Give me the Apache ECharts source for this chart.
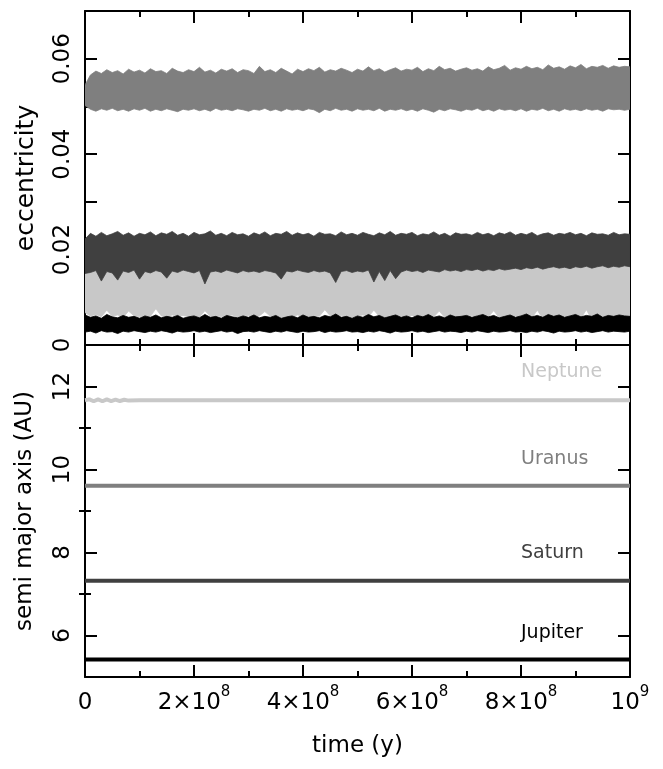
<!DOCTYPE html>
<html><head><meta charset="utf-8">
<script src="https://cdn.jsdelivr.net/npm/echarts@6/dist/echarts.min.js"></script>
<style>html,body{margin:0;padding:0;background:#fff}#c{width:663px;height:769px}</style>
</head><body><div id="c"></div>
<script>
// ---------- data ----------
const eccTime = [
  0,1e7,2e7,3e7,4e7,5e7,6e7,7e7,8e7,9e7,
  1e8,1.1e8,1.2e8,1.3e8,1.4e8,1.5e8,1.6e8,1.7e8,1.8e8,1.9e8,
  2e8,2.1e8,2.2e8,2.3e8,2.4e8,2.5e8,2.6e8,2.7e8,2.8e8,2.9e8,
  3e8,3.1e8,3.2e8,3.3e8,3.4e8,3.5e8,3.6e8,3.7e8,3.8e8,3.9e8,
  4e8,4.1e8,4.2e8,4.3e8,4.4e8,4.5e8,4.6e8,4.7e8,4.8e8,4.9e8,
  5e8,5.1e8,5.2e8,5.3e8,5.4e8,5.5e8,5.6e8,5.7e8,5.8e8,5.9e8,
  6e8,6.1e8,6.2e8,6.3e8,6.4e8,6.5e8,6.6e8,6.7e8,6.8e8,6.9e8,
  7e8,7.1e8,7.2e8,7.3e8,7.4e8,7.5e8,7.6e8,7.7e8,7.8e8,7.9e8,
  8e8,8.1e8,8.2e8,8.3e8,8.4e8,8.5e8,8.6e8,8.7e8,8.8e8,8.9e8,
  9e8,9.1e8,9.2e8,9.3e8,9.4e8,9.5e8,9.6e8,9.7e8,9.8e8,9.9e8,
  1e9];

// eccentricity envelopes (upper / lower)
const uranusEccHigh = [
  0.0545,0.0566,0.0574,0.0569,0.0577,0.0571,0.0575,0.0568,0.0578,0.0572,
  0.0576,0.0570,0.0579,0.0573,0.0575,0.0569,0.0580,0.0574,0.0571,0.0577,
  0.0573,0.0582,0.0572,0.0576,0.0570,0.0578,0.0574,0.0579,0.0571,0.0577,
  0.0575,0.0569,0.0584,0.0573,0.0577,0.0571,0.0580,0.0574,0.0568,0.0578,
  0.0573,0.0579,0.0575,0.0582,0.0572,0.0577,0.0574,0.0580,0.0576,0.0571,
  0.0578,0.0574,0.0583,0.0575,0.0579,0.0572,0.0577,0.0581,0.0574,0.0578,
  0.0576,0.0582,0.0573,0.0579,0.0575,0.0584,0.0577,0.0580,0.0574,0.0578,
  0.0581,0.0576,0.0579,0.0574,0.0583,0.0577,0.0580,0.0586,0.0576,0.0581,
  0.0578,0.0584,0.0579,0.0582,0.0577,0.0587,0.0580,0.0583,0.0578,0.0585,
  0.0581,0.0588,0.0579,0.0584,0.0582,0.0586,0.0580,0.0585,0.0582,0.0584,
  0.0583];
const uranusEccLow = [
  0.0502,0.0494,0.0490,0.0495,0.0492,0.0496,0.0491,0.0494,0.0490,0.0495,
  0.0492,0.0496,0.0490,0.0494,0.0491,0.0495,0.0492,0.0489,0.0494,0.0492,
  0.0495,0.0491,0.0494,0.0490,0.0496,0.0492,0.0494,0.0491,0.0495,0.0493,
  0.0490,0.0494,0.0492,0.0496,0.0491,0.0494,0.0490,0.0495,0.0492,0.0494,
  0.0491,0.0495,0.0493,0.0487,0.0494,0.0491,0.0496,0.0492,0.0494,0.0490,
  0.0495,0.0492,0.0494,0.0491,0.0496,0.0490,0.0494,0.0492,0.0495,0.0491,
  0.0494,0.0490,0.0495,0.0492,0.0488,0.0494,0.0491,0.0495,0.0493,0.0490,
  0.0494,0.0492,0.0496,0.0491,0.0494,0.0490,0.0495,0.0492,0.0494,0.0491,
  0.0495,0.0490,0.0494,0.0492,0.0496,0.0491,0.0494,0.0490,0.0495,0.0492,
  0.0494,0.0491,0.0495,0.0492,0.0494,0.0490,0.0495,0.0493,0.0494,0.0492,
  0.0494];
const saturnEccHigh = [
  0.0222,0.0234,0.0228,0.0236,0.0229,0.0233,0.0238,0.0230,0.0235,0.0228,
  0.0234,0.0231,0.0237,0.0229,0.0235,0.0232,0.0238,0.0230,0.0234,0.0228,
  0.0236,0.0231,0.0233,0.0239,0.0230,0.0234,0.0229,0.0236,0.0231,0.0233,
  0.0228,0.0235,0.0231,0.0237,0.0229,0.0234,0.0232,0.0238,0.0230,0.0235,
  0.0231,0.0234,0.0228,0.0236,0.0232,0.0233,0.0229,0.0237,0.0231,0.0234,
  0.0230,0.0236,0.0232,0.0229,0.0235,0.0231,0.0238,0.0230,0.0234,0.0232,
  0.0236,0.0229,0.0233,0.0231,0.0237,0.0230,0.0234,0.0228,0.0235,0.0232,
  0.0233,0.0230,0.0236,0.0231,0.0234,0.0229,0.0235,0.0232,0.0237,0.0230,
  0.0234,0.0231,0.0236,0.0229,0.0233,0.0235,0.0230,0.0234,0.0232,0.0236,
  0.0231,0.0234,0.0229,0.0235,0.0232,0.0233,0.0230,0.0236,0.0231,0.0233,
  0.0232];
const saturnEccLow = [
  0.0150,0.0152,0.0156,0.0134,0.0154,0.0151,0.0136,0.0155,0.0152,0.0157,
  0.0138,0.0154,0.0151,0.0156,0.0153,0.0140,0.0155,0.0152,0.0157,0.0154,
  0.0151,0.0156,0.0128,0.0153,0.0155,0.0152,0.0157,0.0154,0.0151,0.0156,
  0.0153,0.0155,0.0152,0.0156,0.0154,0.0151,0.0138,0.0155,0.0153,0.0157,
  0.0154,0.0152,0.0156,0.0153,0.0155,0.0151,0.0131,0.0154,0.0156,0.0152,
  0.0155,0.0153,0.0157,0.0132,0.0154,0.0135,0.0156,0.0139,0.0153,0.0157,
  0.0154,0.0156,0.0152,0.0157,0.0155,0.0153,0.0158,0.0155,0.0157,0.0154,
  0.0158,0.0156,0.0159,0.0155,0.0158,0.0156,0.0160,0.0157,0.0159,0.0161,
  0.0158,0.0162,0.0160,0.0163,0.0159,0.0162,0.0164,0.0161,0.0163,0.0160,
  0.0164,0.0162,0.0165,0.0161,0.0164,0.0166,0.0162,0.0165,0.0163,0.0166,
  0.0164];
const neptuneEccHigh = [
  0.0160,0.0162,0.0160,0.0161,0.0162,0.0160,0.0161,0.0162,0.0160,0.0161,
  0.0161,0.0162,0.0160,0.0162,0.0161,0.0160,0.0162,0.0161,0.0162,0.0160,
  0.0162,0.0161,0.0160,0.0162,0.0161,0.0162,0.0160,0.0161,0.0162,0.0160,
  0.0161,0.0162,0.0160,0.0162,0.0161,0.0160,0.0162,0.0161,0.0162,0.0160,
  0.0162,0.0161,0.0160,0.0162,0.0161,0.0162,0.0160,0.0161,0.0162,0.0160,
  0.0161,0.0162,0.0160,0.0162,0.0161,0.0160,0.0162,0.0161,0.0162,0.0160,
  0.0162,0.0161,0.0160,0.0162,0.0161,0.0162,0.0160,0.0161,0.0162,0.0160,
  0.0162,0.0164,0.0163,0.0165,0.0162,0.0164,0.0166,0.0163,0.0165,0.0164,
  0.0165,0.0167,0.0164,0.0168,0.0166,0.0167,0.0172,0.0165,0.0168,0.0166,
  0.0169,0.0167,0.0174,0.0168,0.0170,0.0171,0.0168,0.0172,0.0169,0.0170,
  0.0169];
const neptuneEccLow = [
  0.0068,0.0061,0.0064,0.0059,0.0073,0.0060,0.0063,0.0058,0.0071,0.0061,
  0.0059,0.0062,0.0060,0.0076,0.0061,0.0058,0.0063,0.0060,0.0062,0.0059,
  0.0061,0.0058,0.0072,0.0060,0.0062,0.0059,0.0061,0.0063,0.0058,0.0060,
  0.0062,0.0059,0.0061,0.0070,0.0060,0.0062,0.0058,0.0061,0.0059,0.0063,
  0.0060,0.0058,0.0062,0.0060,0.0074,0.0061,0.0059,0.0062,0.0060,0.0058,
  0.0061,0.0063,0.0059,0.0073,0.0060,0.0058,0.0062,0.0060,0.0061,0.0059,
  0.0062,0.0058,0.0060,0.0061,0.0059,0.0071,0.0058,0.0061,0.0060,0.0057,
  0.0060,0.0062,0.0058,0.0061,0.0059,0.0072,0.0057,0.0060,0.0058,0.0061,
  0.0056,0.0059,0.0057,0.0073,0.0055,0.0058,0.0051,0.0057,0.0060,0.0054,
  0.0058,0.0056,0.0074,0.0053,0.0057,0.0049,0.0056,0.0059,0.0052,0.0057,
  0.0056];
const jupiterEccHigh = [
  0.0063,0.0058,0.0061,0.0056,0.0064,0.0059,0.0057,0.0062,0.0058,0.0060,
  0.0056,0.0061,0.0058,0.0063,0.0057,0.0060,0.0058,0.0062,0.0056,0.0059,
  0.0061,0.0057,0.0064,0.0058,0.0060,0.0056,0.0062,0.0059,0.0057,0.0061,
  0.0058,0.0063,0.0057,0.0060,0.0058,0.0062,0.0056,0.0059,0.0061,0.0057,
  0.0063,0.0058,0.0060,0.0057,0.0062,0.0059,0.0065,0.0058,0.0060,0.0056,
  0.0061,0.0058,0.0064,0.0059,0.0062,0.0057,0.0060,0.0063,0.0058,0.0061,
  0.0057,0.0062,0.0059,0.0064,0.0058,0.0061,0.0057,0.0063,0.0059,0.0060,
  0.0062,0.0058,0.0061,0.0064,0.0059,0.0062,0.0057,0.0060,0.0063,0.0058,
  0.0061,0.0065,0.0059,0.0062,0.0058,0.0064,0.0060,0.0063,0.0058,0.0061,
  0.0064,0.0059,0.0062,0.0060,0.0065,0.0058,0.0062,0.0060,0.0063,0.0061,
  0.0060];
const jupiterEccLow = [
  0.0027,0.0029,0.0025,0.0030,0.0027,0.0028,0.0024,0.0029,0.0027,0.0030,
  0.0028,0.0026,0.0029,0.0027,0.0030,0.0028,0.0025,0.0029,0.0027,0.0028,
  0.0030,0.0027,0.0029,0.0026,0.0028,0.0030,0.0027,0.0029,0.0024,0.0028,
  0.0029,0.0027,0.0030,0.0028,0.0026,0.0029,0.0027,0.0030,0.0028,0.0026,
  0.0029,0.0027,0.0028,0.0030,0.0026,0.0029,0.0027,0.0028,0.0030,0.0027,
  0.0028,0.0026,0.0029,0.0027,0.0030,0.0028,0.0025,0.0029,0.0027,0.0028,
  0.0030,0.0027,0.0029,0.0026,0.0028,0.0030,0.0027,0.0029,0.0028,0.0026,
  0.0029,0.0027,0.0030,0.0028,0.0026,0.0029,0.0027,0.0028,0.0030,0.0027,
  0.0028,0.0026,0.0029,0.0027,0.0030,0.0028,0.0025,0.0029,0.0027,0.0028,
  0.0030,0.0027,0.0029,0.0026,0.0028,0.0030,0.0027,0.0029,0.0028,0.0027,
  0.0029];

// semi major axis (AU)
const semiTime = [0,0.8e7,1.6e7,2.4e7,3.2e7,4e7,4.8e7,5.6e7,6.4e7,7.2e7,8e7,1e8,2e8,3e8,4e8,5e8,6e8,7e8,8e8,9e8,1e9];
const neptuneA = [11.67,11.69,11.645,11.69,11.645,11.69,11.65,11.685,11.65,11.68,11.66,11.67,11.67,11.67,11.67,11.67,11.67,11.67,11.67,11.67,11.67];
const uranusA  = [9.61,9.61,9.61,9.61,9.61,9.61,9.61,9.61,9.61,9.61,9.61,9.61,9.61,9.61,9.61,9.61,9.61,9.61,9.61,9.61,9.61];
const saturnA  = [7.32,7.32,7.32,7.32,7.32,7.32,7.32,7.32,7.32,7.32,7.32,7.32,7.32,7.32,7.32,7.32,7.32,7.32,7.32,7.32,7.32];
const jupiterA = [5.42,5.42,5.42,5.42,5.42,5.42,5.42,5.42,5.42,5.42,5.42,5.42,5.42,5.42,5.42,5.42,5.42,5.42,5.42,5.42,5.42];

const planetNames = ['Neptune','Uranus','Saturn','Jupiter'];
const planetColors = ['#c8c8c8','#7f7f7f','#404040','#000000'];

const xTickLabels = [0,2e8,4e8,6e8,8e8,1e9];
const eccTickLabels = [0,0.02,0.04,0.06];
const semiTickLabels = [6,8,10,12];
const semiMinorTicks = [7,9,11];

// ---------- chart ----------
const FONT = 'DejaVu Sans';
const chart = echarts.init(document.getElementById('c'), null, {renderer:'canvas'});
const line = {show:true, onZero:false, lineStyle:{color:'#000', width:2}};

function xAx(grid, pos, labels) {
  return {
    type:'value', gridIndex:grid, position:pos, min:0, max:1e9, interval:2e8,
    axisLine: line,
    axisTick:{show:true, inside:true, length:12, lineStyle:{color:'#000', width:2}},
    minorTick:{show:true, splitNumber:2, length:6, lineStyle:{color:'#000', width:2}},
    splitLine:{show:false}, minorSplitLine:{show:false},
    axisLabel: labels ? {
      show:true, margin:8, customValues:xTickLabels,
      formatter: v => v === 0 ? '{m|0}' : (v === 1e9 ? '{m|10}{s|9}' : '{m|' + Math.round(v/1e8) + '×10}{s|8}'),
      rich:{ m:{fontFamily:FONT, fontSize:23, lineHeight:30, verticalAlign:'bottom', color:'#000'},
             s:{fontFamily:FONT, fontSize:15, lineHeight:15, verticalAlign:'top', color:'#000'} }
    } : {show:false},
    name: labels ? 'time (y)' : '', nameLocation:'middle', nameGap:58,
    nameTextStyle:{fontFamily:FONT, fontSize:23, color:'#000'}
  };
}

const xAxes = [xAx(0,'bottom',false), xAx(0,'top',false), xAx(1,'bottom',true), xAx(1,'top',false)];

const yAxes = [
  { type:'value', gridIndex:0, position:'left', min:0, max:0.07, interval:0.01,
    axisLine: line, axisTick:{inside:true, length:12, lineStyle:{color:'#000', width:2}},
    splitLine:{show:false},
    axisLabel:{customValues:eccTickLabels, rotate:90, margin:10, fontFamily:FONT, fontSize:23, color:'#000',
      formatter: v => v === 0 ? '0' : v.toFixed(2)},
    name:'eccentricity', nameLocation:'middle', nameGap:46, nameRotate:90,
    nameTextStyle:{fontFamily:FONT, fontSize:25, color:'#000'} },
  { type:'value', gridIndex:0, position:'right', min:0, max:0.07, interval:0.01,
    axisLine: line, axisTick:{inside:true, length:12, lineStyle:{color:'#000', width:2}},
    splitLine:{show:false}, axisLabel:{show:false} },
  { type:'value', gridIndex:1, position:'left', min:5, max:13, interval:1,
    axisLine: line, axisTick:{inside:true, length:12, customValues:semiTickLabels, lineStyle:{color:'#000', width:2}},
    splitLine:{show:false},
    axisLabel:{customValues:semiTickLabels, rotate:90, margin:10, fontFamily:FONT, fontSize:23, color:'#000'},
    name:'semi major axis (AU)', nameLocation:'middle', nameGap:48, nameRotate:90,
    nameTextStyle:{fontFamily:FONT, fontSize:23, color:'#000'} },
  { type:'value', gridIndex:1, position:'left', min:5, max:13, interval:1,
    axisLine:{show:false}, axisTick:{inside:true, length:6, customValues:semiMinorTicks, lineStyle:{color:'#000', width:2}},
    splitLine:{show:false}, axisLabel:{show:false} },
  { type:'value', gridIndex:1, position:'right', min:5, max:13, interval:1,
    axisLine: line, axisTick:{inside:true, length:12, customValues:semiTickLabels, lineStyle:{color:'#000', width:2}},
    splitLine:{show:false}, axisLabel:{show:false} },
  { type:'value', gridIndex:1, position:'right', min:5, max:13, interval:1,
    axisLine:{show:false}, axisTick:{inside:true, length:6, customValues:semiMinorTicks, lineStyle:{color:'#000', width:2}},
    splitLine:{show:false}, axisLabel:{show:false} }
];

// band between upper and lower envelope, drawn through the axes' coordinate system
function band(name, high, low, color) {
  return {
    name:name, type:'custom', xAxisIndex:0, yAxisIndex:0, silent:true, animation:false, clip:true,
    data: eccTime.map((t, i) => [t, high[i], low[i]]),
    encode:{x:0, y:[1,2]},
    renderItem: (params, api) => {
      if (params.dataIndexInside !== 0) return null;
      const n = params.dataInsideLength;
      const top = [], bot = [];
      for (let i = 0; i < n; i++) {
        top.push(api.coord([api.value(0, i), api.value(1, i)]));
        bot.push(api.coord([api.value(0, i), api.value(2, i)]));
      }
      return { type:'polygon', shape:{points: top.concat(bot.reverse())},
               style:{fill:color, stroke:color, lineWidth:0.8} };
    }
  };
}

function semi(name, vals, color) {
  return { name:name, type:'line', xAxisIndex:2, yAxisIndex:2, data:semiTime.map((t,i)=>[t, vals[i]]),
    showSymbol:false, silent:true, lineStyle:{width:4, color:color}, animation:false };
}

const series = [
  band('Uranus', uranusEccHigh, uranusEccLow, planetColors[1]),
  band('Neptune', neptuneEccHigh, neptuneEccLow, planetColors[0]),
  band('Saturn', saturnEccHigh, saturnEccLow, planetColors[2]),
  band('Jupiter', jupiterEccHigh, jupiterEccLow, planetColors[3]),
  semi('Neptune a', neptuneA, planetColors[0]),
  semi('Uranus a', uranusA, planetColors[1]),
  semi('Saturn a', saturnA, planetColors[2]),
  semi('Jupiter a', jupiterA, planetColors[3])
];

const labelY = [372, 459, 553, 633];
const graphic = planetNames.map((n, i) => ({
  type:'text', x:521, y:labelY[i], silent:true,
  style:{text:n, fill:planetColors[i], font:'19px "DejaVu Sans"', verticalAlign:'middle'}
}));

chart.setOption({
  animation:false,
  backgroundColor:'#fff',
  grid:[{left:85, right:33, top:11, height:334}, {left:85, right:33, top:345, height:332}],
  xAxis:xAxes, yAxis:yAxes, series:series, graphic:graphic
});
</script></body></html>
